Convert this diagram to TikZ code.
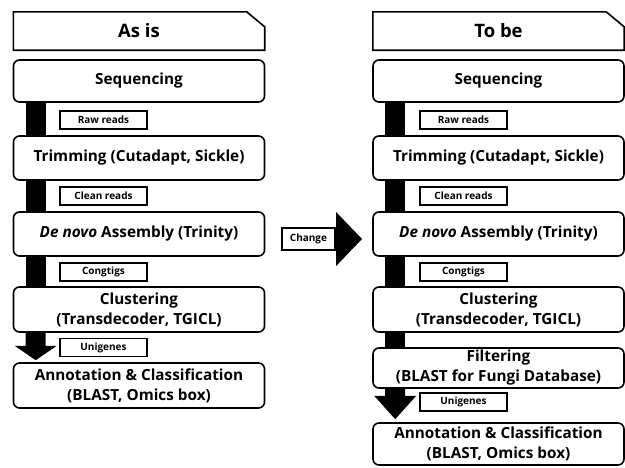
\documentclass[tikz,border=0pt]{standalone}
\usepackage{fontspec}
\setmainfont{Open Sans}
\usetikzlibrary{calc}
\begin{document}
\begin{tikzpicture}[x=1pt,y=-1pt,
  stagebox/.style={draw, line width=1.6pt, rounded corners=6pt, minimum width=251pt, inner sep=0pt, align=center, font=\fontsize{15.3}{20}\selectfont\bfseries},
  headbox/.style={minimum width=251pt, inner sep=0pt, font=\fontsize{18.5}{22}\selectfont\bfseries},
  tagbox/.style={draw, line width=1.2pt, minimum width=87pt, minimum height=18pt, inner sep=0pt, font=\fontsize{10}{12}\selectfont\bfseries},
  flowbar/.style={line width=20pt, black}
]
\useasboundingbox (0,0) rectangle (625,467);

% ---------- left column ----------
\node[headbox, minimum height=38pt] (hA) at (139,31) {As is};
\draw[line width=1.6pt] (hA.north west) -- ($(hA.north east)+(-18,0)$) -- ($(hA.north east)+(0,15)$) -- (hA.south east) -- (hA.south west) -- cycle;

\node[stagebox, minimum height=42pt] (seqA) at (139,81) {Sequencing};
\node[stagebox, minimum height=44pt] (trimA) at (139,158) {Trimming (Cutadapt, Sickle)};
\node[stagebox, minimum height=44pt] (denA) at (139,234) {\textit{De novo} Assembly (Trinity)};
\node[stagebox, minimum height=45pt] (cluA) at (139,309.5) {Clustering\\(Transdecoder, TGICL)};
\node[stagebox, minimum height=45pt] (annA) at (139,385.5) {Annotation \& Classification\\(BLAST, Omics box)};

\node[tagbox] (rawA) at (103.5,120) {Raw reads};
\node[tagbox] (clnA) at (103.5,196) {Clean reads};
\node[tagbox] (conA) at (103.5,272) {Congtigs};
\node[tagbox] (uniA) at (103.5,347.5) {Unigenes};

\draw[flowbar] ($(seqA.south west)+(23,0)$) -- ($(trimA.north west)+(23,0)$);
\draw[flowbar] ($(trimA.south west)+(23,0)$) -- ($(denA.north west)+(23,0)$);
\draw[flowbar] ($(denA.south west)+(23,0)$) -- ($(cluA.north west)+(23,0)$);
\fill[black] ($(cluA.south west)+(13,0)$) -- ($(cluA.south west)+(33,0)$) -- ($(cluA.south west)+(33,13)$) -- ($(cluA.south west)+(44,13)$)
  -- ($(annA.north west)+(23,-2)$) -- ($(cluA.south west)+(2,13)$) -- ($(cluA.south west)+(13,13)$) -- cycle;

% ---------- change arrow ----------
\node[draw, line width=2.2pt, minimum width=53pt, minimum height=22pt, inner sep=0pt, font=\fontsize{10}{12}\selectfont\bfseries] (chg) at (308.5,239) {Change};
\coordinate (tip) at (362,239);
\fill[black] ($(chg.east)+(0,-27)$) -- (tip) -- ($(chg.east)+(0,27)$) -- cycle;

% ---------- right column ----------
\node[headbox, minimum height=38pt] (hB) at (498.5,31) {To be};
\draw[line width=1.6pt] (hB.north west) -- ($(hB.north east)+(-18,0)$) -- ($(hB.north east)+(0,15)$) -- (hB.south east) -- (hB.south west) -- cycle;

\node[stagebox, minimum height=42pt] (seqB) at (498.5,81) {Sequencing};
\node[stagebox, minimum height=44pt] (trimB) at (498.5,158) {Trimming (Cutadapt, Sickle)};
\node[stagebox, minimum height=44pt] (denB) at (498.5,234) {\textit{De novo} Assembly (Trinity)};
\node[stagebox, minimum height=45pt] (cluB) at (498.5,309.5) {Clustering\\(Transdecoder, TGICL)};
\node[stagebox, minimum height=40pt] (filB) at (498.5,368) {Filtering\\(BLAST for Fungi Database)};
\node[stagebox, minimum height=42pt] (annB) at (498.5,444) {Annotation \& Classification\\(BLAST, Omics box)};

\node[tagbox] (rawB) at (463.5,120) {Raw reads};
\node[tagbox] (clnB) at (463.5,196) {Clean reads};
\node[tagbox] (conB) at (463.5,272) {Congtigs};
\node[tagbox] (uniB) at (463.5,402) {Unigenes};

\draw[flowbar] ($(seqB.south west)+(23,0)$) -- ($(trimB.north west)+(23,0)$);
\draw[flowbar] ($(trimB.south west)+(23,0)$) -- ($(denB.north west)+(23,0)$);
\draw[flowbar] ($(denB.south west)+(23,0)$) -- ($(cluB.north west)+(23,0)$);
\draw[flowbar] ($(cluB.south west)+(23,0)$) -- ($(filB.north west)+(23,0)$);
\fill[black] ($(filB.south west)+(13,0)$) -- ($(filB.south west)+(33,0)$) -- ($(filB.south west)+(33,7)$) -- ($(filB.south west)+(44,7)$)
  -- ($(annB.north west)+(23,-3)$) -- ($(filB.south west)+(2,7)$) -- ($(filB.south west)+(13,7)$) -- cycle;
\end{tikzpicture}
\end{document}
